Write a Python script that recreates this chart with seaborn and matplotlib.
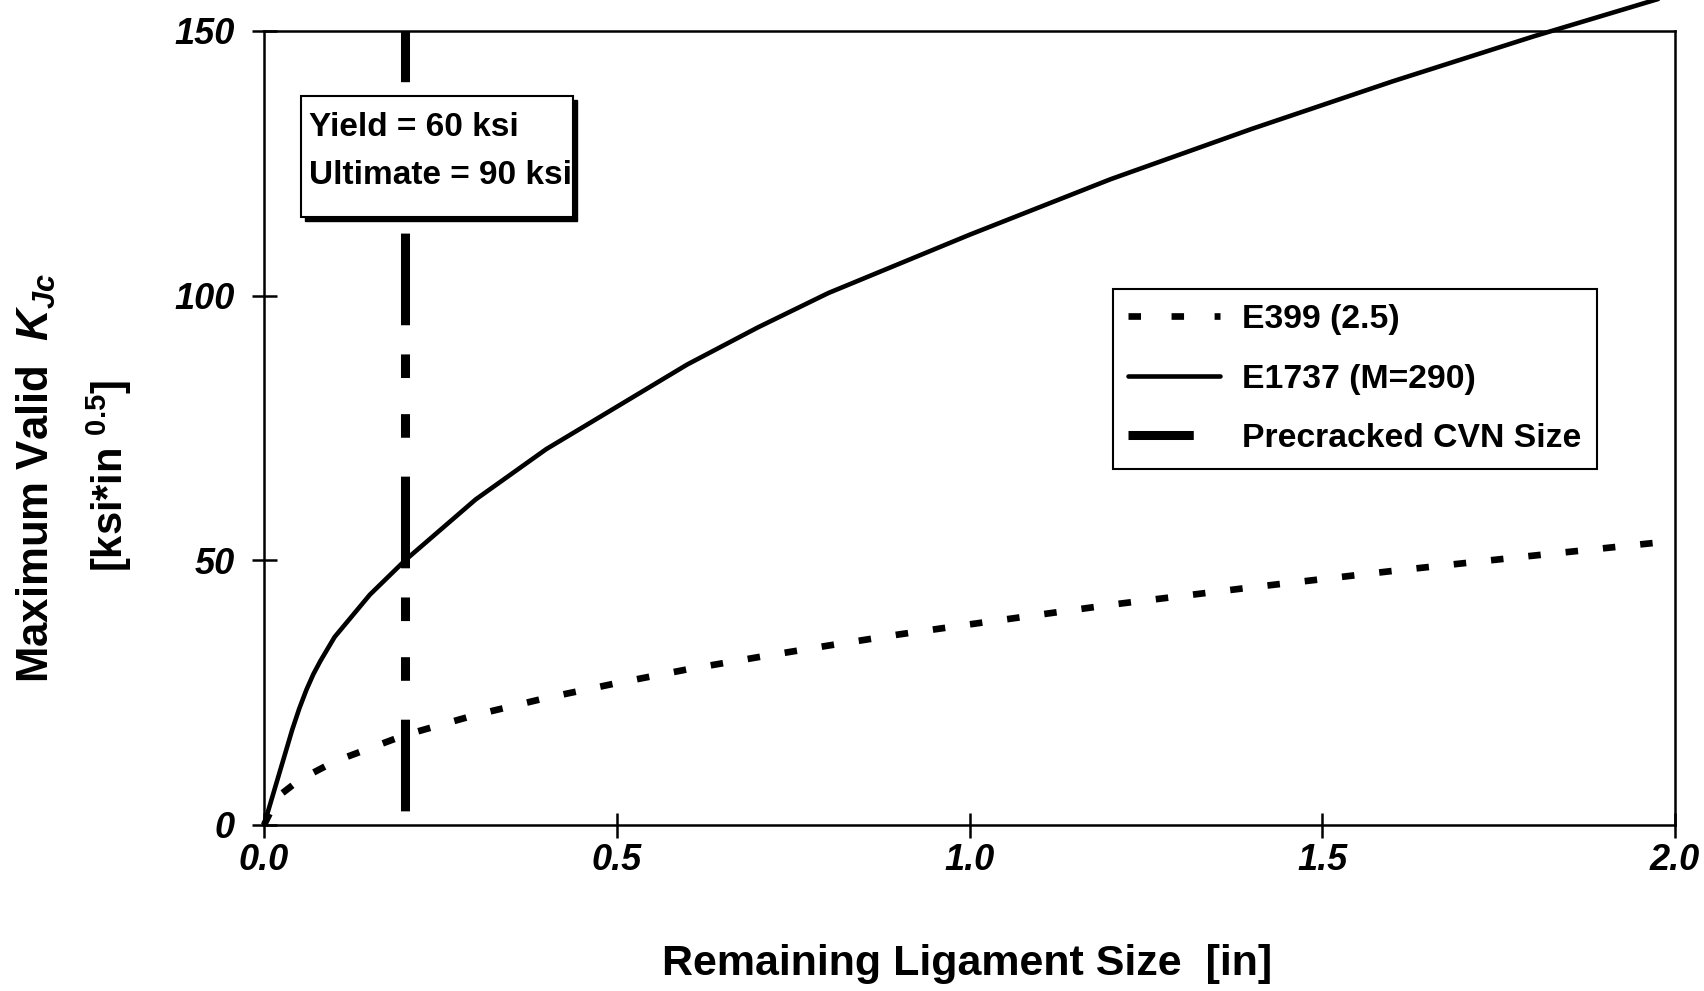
import matplotlib
matplotlib.use("Agg")
import matplotlib.pyplot as plt
from matplotlib.lines import Line2D
from matplotlib.patches import Rectangle
import pandas as pd
import seaborn as sns

# Remaining ligament size [in] and maximum valid K_Jc [ksi*in^0.5]
ligament_e1737 = [0.00, 0.01, 0.02, 0.03, 0.04, 0.05, 0.06, 0.07, 0.08, 0.10,
                  0.15, 0.20, 0.30, 0.40, 0.50, 0.60, 0.70, 0.80, 0.90, 1.00,
                  1.20, 1.40, 1.60, 1.80, 2.00]
kjc_e1737 = [0.0, 4.5, 9.0, 13.5, 18.0, 22.0, 25.5, 28.5, 31.0, 35.5,
             43.5, 50.0, 61.5, 71.0, 79.0, 87.0, 94.0, 100.5, 106.0, 111.5,
             122.0, 131.5, 140.5, 149.0, 157.0]

ligament_e399 = [0.00, 0.02, 0.05, 0.10, 0.20, 0.30, 0.40, 0.50, 0.60, 0.70,
                 0.80, 0.90, 1.00, 1.20, 1.40, 1.60, 1.80, 2.00]
kjc_e399 = [0.0, 5.4, 8.5, 12.0, 17.0, 20.8, 24.0, 26.8, 29.4, 31.7,
            33.9, 36.0, 37.9, 41.6, 44.9, 48.0, 50.9, 53.7]

# Precracked Charpy specimen ligament marker
ligament_cvn = [0.2, 0.2]
kjc_cvn = [150.0, 0.0]

series_labels = ["E399 (2.5)", "E1737 (M=290)", "Precracked CVN Size"]
material_lines = ["Yield = 60 ksi", "Ultimate = 90 ksi"]

x_ticks = [0.0, 0.5, 1.0, 1.5, 2.0]
x_tick_labels = ["0.0", "0.5", "1.0", "1.5", "2.0"]
y_ticks = [0, 50, 100, 150]
y_tick_labels = ["0", "50", "100", "150"]

x_label = "Remaining Ligament Size  [in]"
y_label_1 = r"Maximum Valid  $K_{Jc}$"
y_label_2 = r"[ksi*in $^{0.5}$]"

df_e1737 = pd.DataFrame({"b": ligament_e1737, "K": kjc_e1737})
df_e399 = pd.DataFrame({"b": ligament_e399, "K": kjc_e399})
df_cvn = pd.DataFrame({"b": ligament_cvn, "K": kjc_cvn})

face = "Liberation Sans"
sns.set_theme(style="white")
plt.rcParams["font.family"] = [face, "DejaVu Sans"]
plt.rcParams["font.weight"] = "bold"
plt.rcParams["text.color"] = "black"
plt.rcParams["axes.labelcolor"] = "black"
plt.rcParams["xtick.color"] = "black"
plt.rcParams["ytick.color"] = "black"
plt.rcParams["mathtext.fontset"] = "custom"
plt.rcParams["mathtext.rm"] = f"{face}:bold"
plt.rcParams["mathtext.it"] = f"{face}:italic:bold"
plt.rcParams["mathtext.bf"] = f"{face}:bold"
plt.rcParams["lines.scale_dashes"] = False

W, H = 1704, 991
fig = plt.figure(figsize=(W / 100, H / 100), dpi=100)
fig.patch.set_facecolor("white")

L, R, T, B = 264, 1675, 31, 825
ax = fig.add_axes([L / W, 1 - B / H, (R - L) / W, (B - T) / H])
ax.set_facecolor("white")

cvn_style = (29.5, (66, 21, 17, 26, 17, 28))
dot_style = (0, (9, 18))

sns.lineplot(data=df_cvn, x="b", y="K", ax=ax, color="black", linewidth=6.5,
             linestyle=cvn_style, sort=False, estimator=None,
             solid_capstyle="butt", dash_capstyle="butt")
sns.lineplot(data=df_e399, x="b", y="K", ax=ax, color="black", linewidth=4.8,
             linestyle=dot_style, sort=False, estimator=None,
             dash_capstyle="butt", clip_on=False)
sns.lineplot(data=df_e1737, x="b", y="K", ax=ax, color="black", linewidth=3.3,
             sort=False, estimator=None, clip_on=False)

ax.set_xlim(0, 2.0)
ax.set_ylim(0, 150)
ax.set_xticks(x_ticks)
ax.set_xticklabels(x_tick_labels)
ax.set_yticks(y_ticks)
ax.set_yticklabels(y_tick_labels)
ax.set_xlabel("")
ax.set_ylabel("")

for side in ["left", "right", "top", "bottom"]:
    ax.spines[side].set_visible(True)
    ax.spines[side].set_color("black")
    ax.spines[side].set_linewidth(1.8)

ax.tick_params(axis="both", direction="inout", length=18, width=1.8,
               colors="black", labelcolor="black", labelsize=26)
ax.tick_params(axis="x", pad=4, bottom=True, top=False)
ax.tick_params(axis="y", pad=12, left=True, right=False)
for lbl in ax.get_xticklabels() + ax.get_yticklabels():
    lbl.set_fontweight("bold")
    lbl.set_fontstyle("italic")

# axis titles
fig.text(967 / W, 1 - 964 / H, x_label, ha="center", va="center",
         fontsize=31, fontweight="bold", color="black")
fig.text(36 / W, 1 - 478 / H, y_label_1, ha="center", va="center",
         rotation=90, fontsize=31.5, fontweight="bold", color="black")
fig.text(109 / W, 1 - 476 / H, y_label_2, ha="center", va="center",
         rotation=90, fontsize=30, fontweight="bold", color="black")

# material property box with drop shadow
bx0, by0, bx1, by1 = 301, 96, 573, 217
sh = 4
fig.patches.append(Rectangle(((bx0 + sh) / W, 1 - (by1 + sh) / H),
                             (bx1 - bx0) / W, (by1 - by0) / H,
                             transform=fig.transFigure, facecolor="black",
                             edgecolor="black", zorder=5))
fig.patches.append(Rectangle((bx0 / W, 1 - by1 / H),
                             (bx1 - bx0) / W, (by1 - by0) / H,
                             transform=fig.transFigure, facecolor="white",
                             edgecolor="black", linewidth=1.5, zorder=6))
for i, line in enumerate(material_lines):
    fig.text(309 / W, 1 - (127 + 48 * i) / H, line, ha="left", va="center",
             fontsize=24, fontweight="bold", color="black", zorder=7)

# legend
handles = [
    Line2D([], [], color="black", linewidth=4.8, linestyle=(0, (9, 22)),
           dash_capstyle="butt"),
    Line2D([], [], color="black", linewidth=3.3),
    Line2D([], [], color="black", linewidth=6.5, linestyle=(0, (47, 200)),
           dash_capstyle="butt"),
]
leg_fs = 24.3
leg = ax.legend(handles=handles, labels=series_labels, loc="upper left",
                bbox_to_anchor=(1113 / W, 1 - 289 / H),
                bbox_transform=fig.transFigure, fontsize=leg_fs, frameon=True,
                fancybox=False, framealpha=1, edgecolor="black",
                handlelength=92 * 0.72 / leg_fs, handletextpad=16 / leg_fs,
                labelspacing=0.84, borderpad=0.45, borderaxespad=0)
leg.get_frame().set_linewidth(1.5)
for t in leg.get_texts():
    t.set_fontweight("bold")
    t.set_color("black")

fig.savefig("out.png", dpi=100, facecolor="white")
